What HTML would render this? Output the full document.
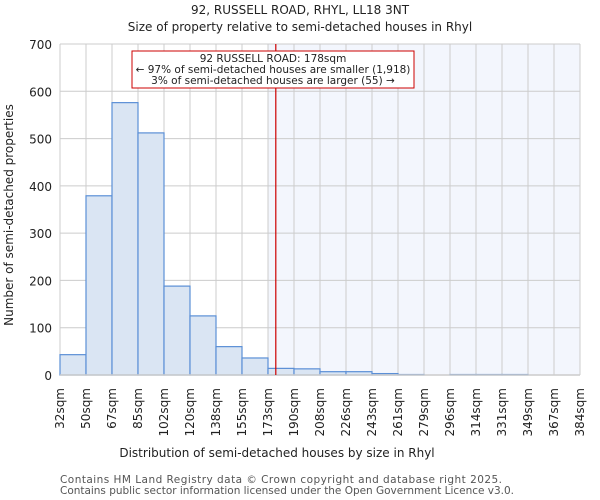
<!DOCTYPE html>
<html><head><meta charset="utf-8"><style>body{margin:0;background:#fff}svg{display:block;font-family:"DejaVu Sans","Liberation Sans",sans-serif}</style></head>
<body>
<svg id="c" width="600" height="500">
<text x="300" y="14" text-anchor="middle" font-size="12" fill="#222">92, RUSSELL ROAD, RHYL, LL18 3NT</text>
<text x="300" y="31" text-anchor="middle" font-size="12" fill="#222">Size of property relative to semi-detached houses in Rhyl</text>
<g id="plot"></g>
<text x="277" y="457" text-anchor="middle" font-size="12" fill="#222">Distribution of semi-detached houses by size in Rhyl</text>
<text transform="translate(13,215) rotate(-90)" text-anchor="middle" font-size="12" fill="#222">Number of semi-detached properties</text>
<text x="60" y="483" font-size="10.5" fill="#555" textLength="442">Contains HM Land Registry data © Crown copyright and database right 2025.</text>
<text x="60" y="494" font-size="10.5" fill="#555" textLength="454">Contains public sector information licensed under the Open Government Licence v3.0.</text>
</svg>
<script>
const tickLabels=["32sqm","50sqm","67sqm","85sqm","102sqm","120sqm","138sqm","155sqm","173sqm","190sqm","208sqm","226sqm","243sqm","261sqm","279sqm","296sqm","314sqm","331sqm","349sqm","367sqm","384sqm"];
const counts=[43,379,576,512,188,125,60,36,14,13,7,7,3,1,0,1,1,1,0,0];
const yTicks=[0,100,200,300,400,500,600,700];
const subjectBin=8;
const markerPos=8.3;
const L=60,R=580,T=44,B=375,yMax=700;
const NS="http://www.w3.org/2000/svg";
const g=document.getElementById('plot');
const bw=(R-L)/counts.length;
const x=i=>L+i*bw;
const y=v=>B-(v/yMax)*(B-T);
function el(t,a){const e=document.createElementNS(NS,t);for(const k in a)e.setAttribute(k,a[k]);g.appendChild(e);return e;}
let e=el('rect',{x:x(subjectBin),y:T,width:R-x(subjectBin),height:B-T,fill:'#f3f6fd'});


for(let i=0;i<tickLabels.length;i++){
 e=el('line',{x1:x(i),x2:x(i),y1:T,y2:B,stroke:'#ccc'});
 
 
 e=el('text',{transform:`translate(${x(i)+4},388) rotate(-90)`,'text-anchor':'end','font-size':'12',fill:'#222'});
 e.textContent=tickLabels[i];
 
 
}
yTicks.forEach(v=>{
 e=el('line',{x1:L,x2:R,y1:y(v),y2:y(v),stroke:'#ccc'});
 
 
 e=el('text',{x:L-8,y:y(v)+5,'text-anchor':'end','font-size':'12',fill:'#222'});
 e.textContent=v;
 
 
});
counts.forEach((c,i)=>{
 if(c<=0)return;
 e=el('rect',{x:x(i),y:y(c),width:bw,height:B-y(c),fill:'#dae5f3',stroke:'#5b8fd6','stroke-width':1.2});
 
 
});
e=el('line',{x1:L,x2:R,y1:B,y2:B,stroke:'#ccc','stroke-width':1.5});


e=el('line',{x1:x(markerPos),x2:x(markerPos),y1:T,y2:B,stroke:'#cc0000','stroke-width':1.2});


e=el('rect',{x:132,y:51,width:282,height:37,fill:'#fff',stroke:'#cc0000','stroke-width':1});


["92 RUSSELL ROAD: 178sqm","← 97% of semi-detached houses are smaller (1,918)","3% of semi-detached houses are larger (55) →"].forEach((s,k)=>{
 e=el('text',{x:273,y:62+k*11,'text-anchor':'middle','font-size':'10.5',fill:'#222'});
 e.textContent=s;
 
 
});
</script>
</body></html>
